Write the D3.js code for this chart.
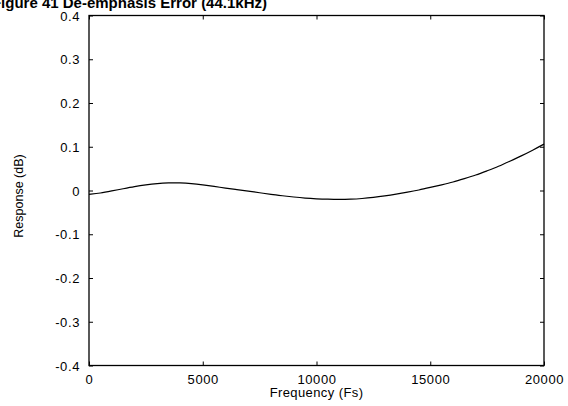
<!DOCTYPE html>
<html>
<head>
<meta charset="utf-8">
<script src="https://cdn.jsdelivr.net/npm/d3@7"></script>
<style>
  body { margin: 0; background: #fff; }
  svg { display: block; }
  text { font-family: "Liberation Sans", Arial, sans-serif; fill: #000; }
</style>
</head>
<body>
<div class="chart"></div>
<script>
var width = 568,
  height = 406

// data
var freq = [0, 500, 1000, 1500, 2000, 2500, 3000, 3500, 4000, 4500, 5000, 5500, 6000, 6500,
  7000, 7500, 8000, 8500, 9000, 9500, 10000, 10500, 11000, 11500, 12000, 12500, 13000,
  13500, 14000, 14500, 15000, 15500, 16000, 16500, 17000, 17500, 18000, 18500, 19000,
  19500, 20000]
var response = [-0.009, -0.006, -0.001, 0.004, 0.009, 0.013, 0.016, 0.0175, 0.0175, 0.016,
  0.013, 0.0095, 0.0055, 0.002, -0.0015, -0.005, -0.009, -0.012, -0.015, -0.0175, -0.019,
  -0.020, -0.0205, -0.020, -0.0185, -0.016, -0.0125, -0.0085, -0.004, 0.001, 0.007, 0.013,
  0.019, 0.027, 0.035, 0.045, 0.055, 0.067, 0.079, 0.092, 0.106]
var xTicks = [0, 5000, 10000, 15000, 20000]
var yTicks = [-0.4, -0.3, -0.2, -0.1, 0, 0.1, 0.2, 0.3, 0.4]

var plot = {left: 89, right: 544, top: 15.5, bottom: 365.5}

var svg = d3.select('.chart')
  .append('svg')
  .attr('width', width)
  .attr('height', height)

var xScale = d3.scaleLinear()
  .domain([0, 20000])
  .range([plot.left, plot.right])

var yScale = d3.scaleLinear()
  .domain([-0.4, 0.4])
  .range([plot.bottom, plot.top])

// title (cut off on the left and top like the original)
svg.append('text')
  .attr('x', 267)
  .attr('y', 8)
  .attr('text-anchor', 'end')
  .style('font-weight', 'bold')
  .style('font-size', '15px')
  .text('Figure 41 De-emphasis Error (44.1kHz)')

// axes, ticks pointing inward (mirrored on all sides)
var fmtY = function(d) { return d === 0 ? '0' : d.toFixed(1) }

var bottomAxis = svg.append('g')
  .attr('transform', 'translate(0,' + plot.bottom + ')')
  .call(d3.axisBottom(xScale).tickValues(xTicks).tickSize(-4).tickPadding(9).tickFormat(function(d) { return String(d) }))
var topAxis = svg.append('g')
  .attr('transform', 'translate(0,' + plot.top + ')')
  .call(d3.axisTop(xScale).tickValues(xTicks).tickSize(-4).tickFormat(''))
var leftAxis = svg.append('g')
  .attr('transform', 'translate(' + plot.left + ',0)')
  .call(d3.axisLeft(yScale).tickValues(yTicks).tickSize(-4).tickPadding(9).tickFormat(fmtY))
var rightAxis = svg.append('g')
  .attr('transform', 'translate(' + plot.right + ',0)')
  .call(d3.axisRight(yScale).tickValues(yTicks).tickSize(-4).tickFormat(''))

svg.selectAll('.domain').remove()
svg.selectAll('.tick line').attr('stroke', '#000').attr('stroke-width', 1)
svg.selectAll('.tick text')
  .style('font-size', '13px')
  .style('letter-spacing', '0.6px')
  .attr('font-family', null)
leftAxis.selectAll('.tick text').attr('dy', '0.36em')

// frame
svg.append('rect')
  .attr('x', plot.left)
  .attr('y', plot.top)
  .attr('width', plot.right - plot.left)
  .attr('height', plot.bottom - plot.top)
  .attr('fill', 'none')
  .attr('stroke', '#000')
  .attr('stroke-width', 1.3)

// curve
var line = d3.line()
  .x(function(d, i) { return xScale(freq[i]) })
  .y(function(d) { return yScale(d) })
  .curve(d3.curveBasis)

svg.append('path')
  .datum(response)
  .attr('d', line)
  .attr('fill', 'none')
  .attr('stroke', '#000')
  .attr('stroke-width', 1.2)

// axis labels
svg.append('text')
  .attr('x', (plot.left + plot.right) / 2)
  .attr('y', 397)
  .attr('text-anchor', 'middle')
  .style('font-size', '13px')
  .style('letter-spacing', '0.4px')
  .text('Frequency (Fs)')

svg.append('text')
  .attr('transform', 'translate(23,196) rotate(-90)')
  .attr('text-anchor', 'middle')
  .style('font-size', '12.5px')
  .text('Response (dB)')
</script>
</body>
</html>
